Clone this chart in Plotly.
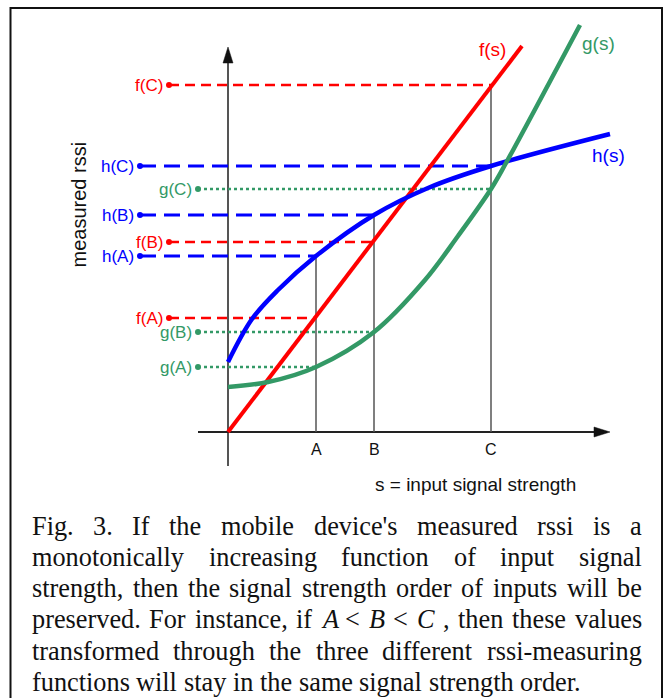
import plotly.graph_objects as go

# ---------------- data ----------------
points = ["A", "B", "C"]
s_at = [8.8, 14.6, 26.3]          # input signal strength of A, B, C
f_at = [11.4, 19.0, 34.7]         # f(A), f(B), f(C)
g_at = [6.5, 10.0, 24.3]          # g(A), g(B), g(C)
h_at = [17.6, 21.7, 26.6]         # h(A), h(B), h(C)

f_s = [0.0, 29.4]
f_v = [0.0, 38.6]
g_s = [0.0, 4.0, 8.8, 14.6, 19.7, 23.0, 26.3, 27.8, 35.2]
g_v = [4.5, 5.0, 6.5, 10.0, 15.2, 19.6, 24.3, 26.9, 40.7]
h_s = [0.0, 2.4, 5.0, 8.8, 14.6, 20.0, 26.3, 38.2]
h_v = [7.0, 11.3, 14.2, 17.6, 21.7, 24.4, 26.6, 29.8]

x_title = "s = input signal strength"
y_title = "measured rssi"

caption_lines = [
    "Fig. 3. If the mobile device's measured rssi is a",
    "monotonically increasing function of input signal",
    "strength, then the signal strength order of inputs will be",
    "preserved. For instance, if A < B < C , then these values",
    "transformed through the three different rssi-measuring",
    "functions will stay in the same signal strength order.",
]

# ---------------- styles / layout ----------------
W, H = 665, 698
XR = [-22.8, 43.7]
YR = [-26.6, 43.2]
RED, BLUE, GREEN = "#ff0000", "#0000ff", "#339966"
AXIS_GRAY = "#555555"
SANS = "Liberation Sans, Arial, sans-serif"
SERIF = "Liberation Serif, Times New Roman, serif"

style = {
    "f": dict(color=RED, width=4, dash="10px,6px", dwidth=2.5, mark_u=-5.9, text_u=-6.4,
              data=(f_s, f_v, f_at), label_pos=(26.4, 38.3)),
    "g": dict(color=GREEN, width=4.5, dash="dot", dwidth=2.4, mark_u=-3.0, text_u=-3.5,
              data=(g_s, g_v, g_at), label_pos=(37.0, 38.9)),
    "h": dict(color=BLUE, width=4.5, dash="16px,8px", dwidth=3, mark_u=-8.8, text_u=-9.3,
              data=(h_s, h_v, h_at), label_pos=(38.0, 27.7)),
}

fig = go.Figure()

# vertical guide lines at A, B, C up to the highest curve value
for s, fa, ga, ha in zip(s_at, f_at, g_at, h_at):
    fig.add_trace(go.Scatter(x=[s, s], y=[0, max(fa, ga, ha)], mode="lines",
                             line=dict(color=AXIS_GRAY, width=1.5),
                             hoverinfo="skip", showlegend=False))

# dashed projections to the y-axis
annotations = []
for name in ["g", "f", "h"]:
    st = style[name]
    vals = st["data"][2]
    xs, ys = [], []
    for s, v in zip(s_at, vals):
        xs += [st["mark_u"], s, None]
        ys += [v, v, None]
    fig.add_trace(go.Scatter(x=xs, y=ys, mode="lines",
                             line=dict(color=st["color"], width=st["dwidth"], dash=st["dash"]),
                             hoverinfo="skip", showlegend=False))
    fig.add_trace(go.Scatter(x=[st["mark_u"]] * len(vals), y=vals, mode="markers",
                             marker=dict(color=st["color"], size=6),
                             hoverinfo="skip", showlegend=False))
    for p, v in zip(points, vals):
        annotations.append(dict(x=st["text_u"], y=v, xref="x", yref="y",
                                text=f"{name}({p})", showarrow=False, xanchor="right",
                                yanchor="middle", borderpad=0,
                                font=dict(family=SANS, size=17, color=st["color"])))

# curves
for name in ["f", "h", "g"]:
    st = style[name]
    xs, ys, _ = st["data"]
    fig.add_trace(go.Scatter(x=xs, y=ys, mode="lines",
                             line=dict(color=st["color"], width=st["width"],
                                       shape="spline", smoothing=1.0),
                             hoverinfo="skip", showlegend=False))
    lx, ly = st["label_pos"]
    annotations.append(dict(x=lx, y=ly, xref="x", yref="y", text=f"{name}(s)",
                            showarrow=False, xanchor="center", yanchor="middle",
                            font=dict(family=SANS, size=19, color=st["color"])))

# axes with arrowheads
shapes = [
    dict(type="line", x0=0, x1=0, y0=-3.4, y1=37.2, xref="x", yref="y",
         line=dict(color=AXIS_GRAY, width=2), layer="below"),
    dict(type="line", x0=-3.0, x1=36.8, y0=0, y1=0, xref="x", yref="y",
         line=dict(color="#222222", width=2), layer="below"),
    dict(type="path", path="M 0 38.5 L -0.5 36.9 L 0.5 36.9 Z", xref="x", yref="y",
         fillcolor="#111111", line=dict(color="#111111", width=0.5)),
    dict(type="path", path="M 38.2 0 L 36.6 0.5 L 36.6 -0.5 Z", xref="x", yref="y",
         fillcolor="#111111", line=dict(color="#111111", width=0.5)),
    # outer frame
    dict(type="rect", x0=10.5 / W, x1=662 / W, y0=-0.02, y1=1 - 8 / H,
         xref="paper", yref="paper", line=dict(color="#111111", width=2)),
]

for p, s in zip(points, s_at):
    annotations.append(dict(x=s, y=-1.7, xref="x", yref="y", text=p, showarrow=False,
                            xanchor="center", yanchor="middle",
                            font=dict(family=SANS, size=16, color="#111111")))
annotations.append(dict(x=24.75, y=-5.2, xref="x", yref="y", text=x_title, showarrow=False,
                        xanchor="center", yanchor="middle",
                        font=dict(family=SANS, size=19, color="#111111")))
annotations.append(dict(x=-15.0, y=22.75, xref="x", yref="y", text=y_title, showarrow=False,
                        textangle=-90, xanchor="center", yanchor="middle",
                        font=dict(family=SANS, size=20, color="#111111")))

# ---------------- caption (justified, Times metrics) ----------------
CW = {' ': 250, "'": 180, ',': 250, '-': 333, '.': 250, '3': 500, '<': 564,
      'A': 722, 'B': 667, 'C': 667, 'F': 556, 'I': 333,
      'a': 444, 'b': 500, 'c': 444, 'd': 500, 'e': 444, 'f': 333, 'g': 500, 'h': 500,
      'i': 278, 'j': 278, 'k': 500, 'l': 278, 'm': 778, 'n': 500, 'o': 500, 'p': 500,
      'q': 500, 'r': 333, 's': 389, 't': 278, 'u': 500, 'v': 500, 'w': 722, 'x': 500,
      'y': 500, 'z': 444}
CWI = {'A': 611, 'B': 611, 'C': 667}
FS = 26.3
LEFT, RIGHT = 31, 641
FIRST_BASE, LINE_STEP = 535.5, 31.1

def tok_width(t, italic):
    tbl = CWI if italic else {}
    return sum(tbl.get(ch, CW.get(ch, 500)) for ch in t) * FS / 1000.0

for i, line in enumerate(caption_lines):
    base = FIRST_BASE + LINE_STEP * i
    toks = line.split(" ")
    italics = [t in ("A", "B", "C") for t in toks]
    widths = [tok_width(t, it) for t, it in zip(toks, italics)]
    last = i == len(caption_lines) - 1
    gap = 0.25 * FS if last else (RIGHT - LEFT - sum(widths)) / (len(toks) - 1)
    x = LEFT
    cy = base - 0.3375 * FS
    for t, it, w in zip(toks, italics, widths):
        txt = t.replace("<", "&lt;")
        if it:
            txt = f"<i>{txt}</i>"
        annotations.append(dict(x=x / W, y=1 - cy / H, xref="paper", yref="paper",
                                text=txt, showarrow=False, xanchor="left", yanchor="middle",
                                borderpad=0,
                                font=dict(family=SERIF, size=FS, color="#111111")))
        x += w + gap

fig.update_layout(
    width=W, height=H, margin=dict(l=0, r=0, t=0, b=0),
    paper_bgcolor="white", plot_bgcolor="white",
    xaxis=dict(range=XR, visible=False, fixedrange=True),
    yaxis=dict(range=YR, visible=False, fixedrange=True),
    shapes=shapes, annotations=annotations, showlegend=False,
)

fig.write_html("out.html", config={"displayModeBar": False},
               post_script="document.body.style.margin='0';")
